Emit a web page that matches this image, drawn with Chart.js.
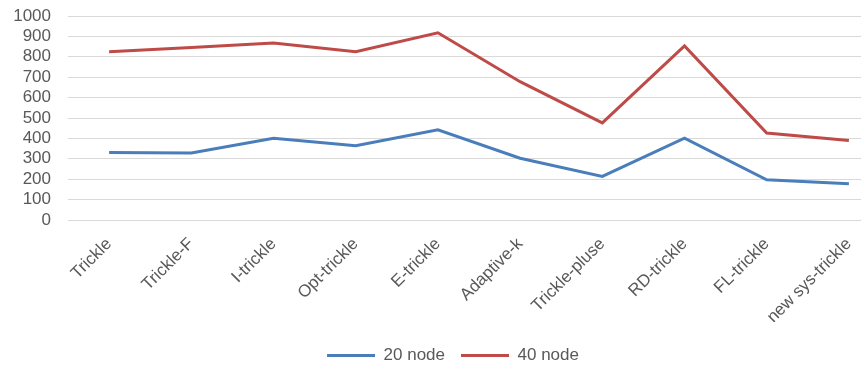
<!DOCTYPE html>
<html>
<head>
<meta charset="utf-8">
<script src="https://cdn.jsdelivr.net/npm/chart.js@4/dist/chart.umd.min.js"></script>
<style>
  html, body { margin: 0; padding: 0; background: #fff; overflow: hidden; }
  #wrap { width: 890px; height: 365px; }
</style>
</head>
<body>
<div id="wrap"><canvas id="myChart" width="890" height="365"></canvas></div>
<script>
const categories = [
  "Trickle", "Trickle-F", "I-trickle", "Opt-trickle", "E-trickle",
  "Adaptive-k", "Trickle-pluse", "RD-trickle", "FL-trickle", "new sys-trickle"
];
const node20 = [331, 328, 401, 364, 442, 303, 214, 401, 197, 178];
const node40 = [825, 845, 868, 825, 918, 678, 476, 853, 426, 390];
const seriesNames = ["20 node", "40 node"];
const yMax = 1000;
const yStep = 100;

const blue = "#4a7ebb";
const red = "#be4b48";
const textGray = "#595959";

function Series(label, data, color) {
  this.label = label;
  this.data = data;
  this.borderColor = color;
  this.backgroundColor = color;
  this.borderWidth = 3;
  this.pointRadius = 0;
  this.tension = 0;
  this.fill = false;
}

const data = {
  labels: categories,
  datasets: [
    new Series(seriesNames[0], node20, blue),
    new Series(seriesNames[1], node40, red),
  ],
};

// nudge the legend right and down, like the original
const legendNudge = {
  id: "legendNudge",
  afterLayout: (chart) => {
    const lg = chart.legend;
    lg.left += 8;
    lg.right += 8;
    lg.top += 9;
    lg.bottom += 9;
  },
};

const config = {
  type: "line",
  data,
  plugins: [legendNudge],
  options: {
    responsive: false,
    animation: false,
    layout: { padding: { top: 16, left: 0, right: 0, bottom: 0 } },
    plugins: {
      tooltip: { enabled: false },
      legend: {
        position: "bottom",
        align: "center",
        labels: {
          color: textGray,
          font: { family: "Liberation Sans", size: 17 },
          boxWidth: 48,
          boxHeight: 3,
          padding: 16,
          generateLabels: (chart) => {
            const items = Chart.defaults.plugins.legend.labels.generateLabels(chart);
            items.forEach((it) => { it.lineWidth = 0; });
            return items;
          },
        },
      },
    },
    scales: {
      y: {
        min: 0,
        max: yMax,
        afterFit: (scale) => {
          scale.width = 68;
          scale.paddingTop = 0;
          scale.paddingBottom = 0;
        },
        border: { display: false },
        grid: { color: "#d9d9d9", lineWidth: 1, drawTicks: false },
        ticks: {
          stepSize: yStep,
          autoSkip: false,
          color: textGray,
          padding: 17,
          font: { family: "Liberation Sans", size: 17, lineHeight: 1 },
          callback: (v) => String(v),
        },
      },
      x: {
        offset: true,
        afterFit: (scale) => { scale.height = 102; },
        border: { display: false },
        grid: { display: false, drawTicks: false },
        ticks: {
          color: textGray,
          padding: 14,
          minRotation: 45,
          maxRotation: 45,
          autoSkip: false,
          font: { family: "Liberation Sans", size: 17 },
        },
      },
    },
  },
};

new Chart(document.getElementById("myChart"), config);
</script>
</body>
</html>
